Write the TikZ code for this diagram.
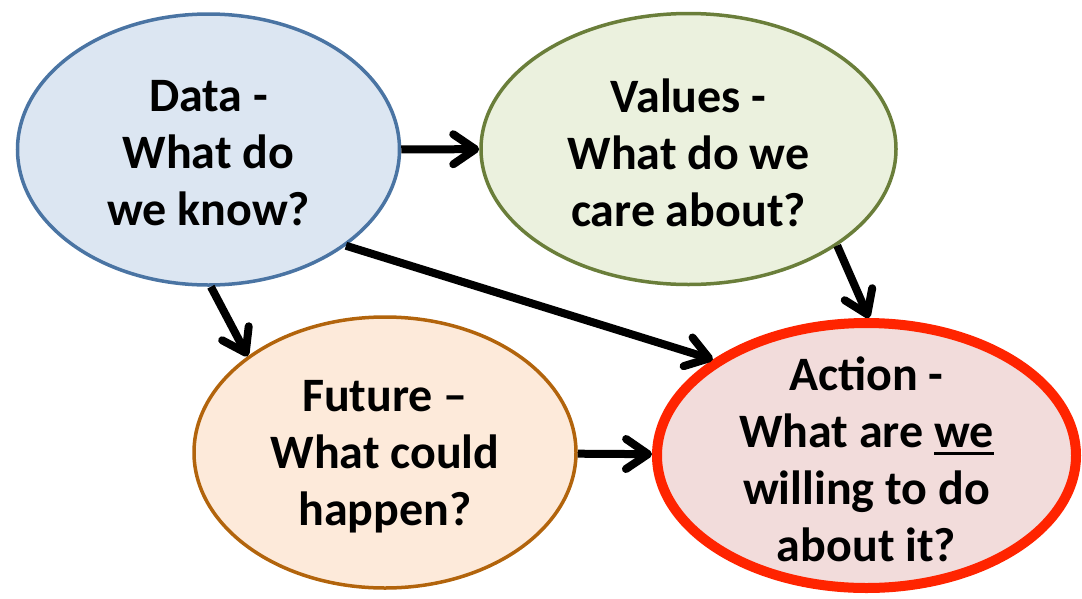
\documentclass[tikz,border=0pt]{standalone}
\usepackage{fontspec}
\setmainfont{Carlito}
\usetikzlibrary{arrows.meta,shapes.geometric}
\definecolor{DataLine}{RGB}{74,116,163}
\definecolor{DataFill}{RGB}{220,230,242}
\definecolor{ValLine}{RGB}{106,126,58}
\definecolor{ValFill}{RGB}{235,241,222}
\definecolor{FutLine}{RGB}{178,100,12}
\definecolor{FutFill}{RGB}{253,234,218}
\definecolor{ActLine}{RGB}{255,36,0}
\definecolor{ActFill}{RGB}{242,220,219}
\newcommand\underword[1]{\setbox0\hbox{#1}\rlap{\rule[-7pt]{\wd0}{2.5pt}}\box0}
\tikzset{
  txt/.style={font=\fontsize{48}{57}\selectfont\bfseries,align=center,text=black,yshift=-4pt},
  bubble/.style={ellipse,line width=3.5pt,inner sep=0pt},
  dataBubble/.style={bubble,draw=DataLine,fill=DataFill,minimum width=382pt,minimum height=271pt},
  valBubble/.style={bubble,draw=ValLine,fill=ValFill,minimum width=415pt,minimum height=271pt},
  futBubble/.style={bubble,draw=FutLine,fill=FutFill,minimum width=382pt,minimum height=271pt},
  actBubble/.style={bubble,line width=10pt,draw=ActLine,fill=ActFill,minimum width=419pt,minimum height=265pt},
  link/.style={-{Straight Barb[length=22pt,width=30pt,round]},line width=8pt,draw=black}
}
\begin{document}
\begin{tikzpicture}[x=1pt,y=-1pt]
  \useasboundingbox (0,0) rectangle (1082,598);
  \node[dataBubble,label={[txt]center:Data -\\What do\\we know?}] (data) at (208.5,149.5) {};
  \node[valBubble,label={[txt]center:Values -\\What do we\\care about?}] (values) at (688.5,149) {};
  \node[futBubble,label={[txt]center:Future --\\What could\\happen?}] (future) at (385,452.5) {};
  \node[actBubble,label={[txt]center:Action -\\What are \underword{we}\\willing to do\\about it?}] (action) at (866.5,455.5) {};
  \draw[link] (data) -- (values);
  \draw[link] (data.-89) -- (future.145);
  \draw[link] (data.-35) -- (action.148);
  \draw[link] (values.-33) -- (action.89);
  \draw[link] (future) -- (action);
\end{tikzpicture}
\end{document}
